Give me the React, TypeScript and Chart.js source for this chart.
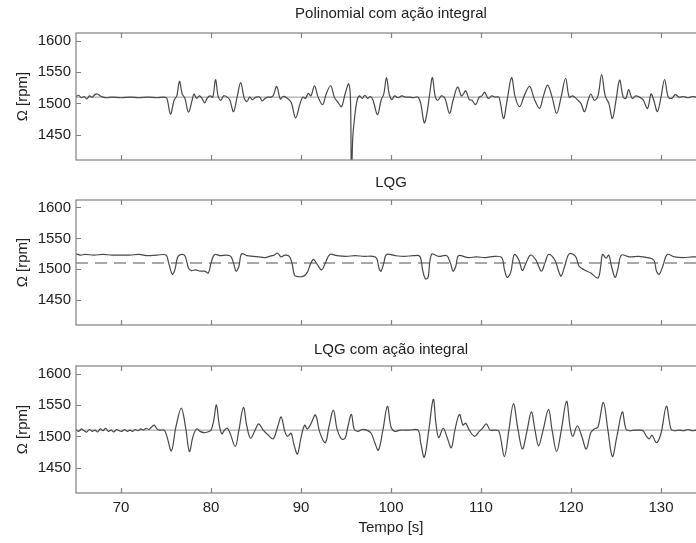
import React, { useEffect, useRef } from 'react';
import { Chart, registerables } from 'chart.js';

Chart.register(...registerables);

const FONT = "'Liberation Sans', Arial, Helvetica, sans-serif";

// axis ticks
const X_TICKS = [70, 80, 90, 100, 110, 120, 130];
const Y_TICKS = [1450, 1500, 1550, 1600];
const X_MIN = 65;
const X_MAX = 135;
const Y_MIN = 1410;
const Y_MAX = 1612;
const SETPOINT = 1510;

// Panel 1: Polinomial com ação integral
const t1 = [65.0, 65.3, 65.6, 65.9, 66.2, 66.5, 66.8, 67.1, 67.4, 67.7, 68.0, 68.5, 69, 70, 71, 72, 73, 74, 74.8, 75.1, 75.5, 75.9, 76.2, 76.5, 76.8, 77.1, 77.5, 77.9, 78.1, 78.4, 78.7, 79.0, 79.3, 79.6, 79.9, 80.2, 80.5, 80.8, 81.1, 81.4, 81.8, 82.1, 82.5, 82.9, 83.3, 83.7, 84.0, 84.3, 84.6, 85.0, 85.4, 85.7, 86.0, 86.3, 86.6, 86.9, 87.3, 87.7, 88.0, 88.4, 88.9, 89.4, 89.9, 90.2, 90.5, 90.8, 91.1, 91.5, 91.9, 92.4, 92.8, 93.3, 93.7, 94.1, 94.5, 94.9, 95.3, 95.5, 95.6, 95.75, 95.9, 96.2, 96.5, 96.8, 97.1, 97.4, 97.7, 98.0, 98.5, 98.9, 99.2, 99.5, 99.8, 100.1, 100.4, 100.8, 101.2, 101.6, 102, 102.5, 103.0, 103.3, 103.7, 104.0, 104.3, 104.6, 104.9, 105.2, 105.6, 106.0, 106.5, 106.9, 107.4, 107.8, 108.0, 108.3, 108.7, 109.0, 109.4, 109.8, 110.1, 110.4, 110.8, 111.2, 111.6, 112.0, 112.5, 112.9, 113.4, 113.8, 114.3, 114.8, 115.4, 115.9, 116.5, 116.9, 117.4, 117.9, 118.4, 118.9, 119.4, 119.8, 120.2, 120.7, 121.1, 121.5, 121.9, 122.2, 122.6, 123.0, 123.4, 123.8, 124.2, 124.6, 125.0, 125.4, 125.8, 126.1, 126.4, 126.8, 127.2, 127.6, 128.0, 128.5, 128.9, 129.2, 129.6, 130.0, 130.4, 130.8, 131.2, 131.6, 132.0, 132.5, 133, 133.5, 134, 135];
const v1 = [1511, 1513, 1509, 1511, 1507, 1512, 1510, 1514, 1515, 1512, 1510, 1509, 1510, 1509, 1510, 1509, 1510, 1509, 1510, 1508, 1483, 1505, 1512, 1535, 1515, 1508, 1486, 1505, 1515, 1508, 1512, 1508, 1501, 1509, 1512, 1510, 1538, 1511, 1505, 1512, 1510, 1505, 1487, 1510, 1533, 1508, 1503, 1510, 1506, 1510, 1510, 1504, 1508, 1510, 1510, 1512, 1527, 1507, 1511, 1509, 1502, 1477, 1500, 1510, 1508, 1516, 1512, 1528, 1510, 1498, 1515, 1528, 1510, 1502, 1495, 1515, 1531, 1505, 1380, 1445, 1470, 1503, 1512, 1508, 1513, 1508, 1511, 1505, 1482, 1505, 1515, 1541, 1515, 1506, 1512, 1509, 1512, 1510, 1510, 1509, 1510, 1500, 1469, 1485, 1515, 1541, 1512, 1505, 1512, 1508, 1484, 1505, 1526, 1512, 1514, 1520, 1506, 1505, 1498, 1510, 1512, 1518, 1508, 1512, 1510, 1510, 1476, 1505, 1541, 1510, 1495, 1512, 1527, 1508, 1492, 1510, 1529, 1510, 1484, 1510, 1540, 1510, 1512, 1506, 1500, 1487, 1505, 1515, 1505, 1512, 1546, 1512, 1500, 1476, 1505, 1537, 1510, 1508, 1522, 1508, 1512, 1510, 1506, 1492, 1515, 1505, 1487, 1510, 1538, 1510, 1508, 1514, 1510, 1511, 1509, 1511, 1510, 1510];

// Panel 2: LQG
const t2 = [65, 65.5, 66, 67, 68, 69, 70, 71, 72, 73, 74, 75.0, 75.3, 75.7, 76.0, 76.3, 76.7, 77.1, 77.5, 77.8, 78.3, 78.8, 79.3, 79.7, 80.0, 80.4, 81.0, 81.7, 82.2, 82.5, 82.8, 83.1, 83.4, 84.0, 84.7, 85.3, 86.0, 86.5, 87.0, 87.4, 87.8, 88.2, 88.7, 89.0, 89.3, 89.8, 90.3, 90.7, 91.1, 91.4, 91.8, 92.3, 92.7, 93.2, 94, 95, 96, 97, 98, 98.4, 98.7, 98.9, 99.2, 99.5, 100.5, 101.5, 102.5, 103.2, 103.5, 103.8, 104.1, 104.5, 105.3, 106.2, 106.6, 106.9, 107.2, 107.5, 108.5, 109.5, 110.5, 111.5, 112.3, 112.6, 112.9, 113.3, 113.7, 114.2, 114.6, 115.0, 115.5, 116.1, 116.7, 117.1, 117.5, 118.2, 118.6, 118.9, 119.3, 119.8, 120.5, 120.9, 121.5, 122.2, 123.0, 123.3, 123.5, 123.9, 124.2, 124.5, 124.9, 125.2, 125.6, 126.5, 127.5, 128.5, 129.2, 129.5, 129.8, 130.2, 130.7, 131.5, 132.5, 133.5, 134.5, 135];
const v2 = [1525, 1523, 1524, 1523, 1524, 1523, 1523, 1523, 1524, 1522, 1523, 1523, 1510, 1492, 1500, 1520, 1524, 1522, 1502, 1498, 1499, 1497, 1497, 1494, 1510, 1524, 1522, 1523, 1521, 1510, 1497, 1505, 1525, 1522, 1521, 1520, 1519, 1521, 1523, 1526, 1520, 1523, 1521, 1510, 1490, 1488, 1489, 1495, 1510, 1516, 1508, 1499, 1510, 1524, 1522, 1521, 1522, 1521, 1521, 1518, 1500, 1497, 1510, 1524, 1522, 1521, 1522, 1521, 1500, 1485, 1486, 1524, 1521, 1522, 1510, 1497, 1505, 1522, 1519, 1520, 1519, 1521, 1519, 1500, 1487, 1495, 1524, 1515, 1498, 1510, 1523, 1515, 1497, 1510, 1524, 1515, 1498, 1489, 1505, 1525, 1521, 1505, 1499, 1494, 1486, 1505, 1524, 1518, 1523, 1505, 1487, 1500, 1523, 1520, 1521, 1519, 1515, 1497, 1492, 1505, 1524, 1520, 1519, 1520, 1520, 1520];

// Panel 3: LQG com ação integral
const t3 = [65, 65.3, 65.6, 65.9, 66.2, 66.5, 66.8, 67.1, 67.4, 67.7, 68.0, 68.3, 68.6, 68.9, 69.2, 69.5, 69.8, 70.1, 70.4, 70.7, 71.0, 71.3, 71.6, 71.9, 72.2, 72.5, 72.8, 73.1, 73.4, 73.7, 74.0, 74.3, 74.8, 75.1, 75.6, 76.1, 76.7, 77.2, 77.6, 78.0, 78.4, 78.8, 79.2, 79.6, 80.0, 80.3, 80.6, 80.9, 81.2, 81.5, 81.8, 82.1, 82.7, 83.1, 83.6, 84.0, 84.4, 84.9, 85.3, 85.8, 86.3, 86.9, 87.4, 87.8, 88.2, 88.5, 88.9, 89.2, 89.6, 90.0, 90.4, 90.7, 91.1, 91.6, 92.1, 92.7, 93.1, 93.6, 94.0, 94.5, 94.9, 95.2, 95.6, 95.9, 96.3, 96.8, 97.3, 97.8, 98.2, 98.6, 99.1, 99.6, 100.0, 100.4, 101, 102, 103, 103.3, 103.7, 104.2, 104.7, 105.0, 105.3, 105.8, 106.2, 106.7, 107.1, 107.6, 108.0, 108.3, 108.7, 109.3, 109.8, 110.1, 110.6, 111.0, 111.5, 112.0, 112.6, 113.1, 113.6, 114.1, 114.6, 115.1, 115.6, 116.0, 116.4, 116.9, 117.5, 117.9, 118.4, 118.9, 119.5, 119.9, 120.2, 120.7, 121.2, 121.7, 122.2, 122.6, 123.0, 123.6, 124.1, 124.6, 125.1, 125.7, 126.1, 126.5, 127, 127.5, 128.0, 128.4, 128.7, 129.0, 129.5, 130.0, 130.6, 131.1, 131.5, 132, 132.5, 133, 133.5, 134, 135];
const v3 = [1511, 1508, 1512, 1509, 1507, 1511, 1508, 1510, 1507, 1512, 1509, 1513, 1508, 1510, 1507, 1511, 1509, 1508, 1511, 1508, 1510, 1508, 1511, 1509, 1512, 1510, 1513, 1511, 1515, 1518, 1512, 1510, 1510, 1500, 1477, 1515, 1545, 1512, 1476, 1500, 1512, 1508, 1506, 1507, 1510, 1525, 1550, 1520, 1504, 1510, 1513, 1506, 1484, 1510, 1546, 1515, 1497, 1510, 1520, 1510, 1503, 1496, 1515, 1531, 1508, 1500, 1505, 1488, 1472, 1498, 1518, 1512, 1520, 1534, 1506, 1490, 1515, 1542, 1512, 1496, 1497, 1515, 1535, 1512, 1508, 1511, 1510, 1505, 1490, 1478, 1510, 1548, 1515, 1508, 1510, 1510, 1510, 1490, 1467, 1510, 1559, 1520, 1498, 1513, 1500, 1482, 1510, 1535, 1518, 1521, 1510, 1500, 1508, 1512, 1520, 1510, 1510, 1508, 1468, 1510, 1552, 1512, 1480, 1508, 1539, 1510, 1485, 1510, 1543, 1510, 1476, 1508, 1556, 1515, 1500, 1517, 1500, 1480, 1506, 1512, 1515, 1554, 1510, 1468, 1500, 1539, 1512, 1509, 1510, 1510, 1509, 1500, 1496, 1502, 1490, 1505, 1548, 1512, 1509, 1510, 1509, 1511, 1509, 1510, 1510];

const TITLES = ['Polinomial com ação integral', 'LQG', 'LQG com ação integral'];
const Y_LABEL = 'Ω [rpm]';
const X_LABEL = 'Tempo [s]';

const framePlugin = {
  id: 'frameTicks',
  afterDatasetsDraw(chart: any) {
    const { ctx, chartArea: a, scales } = chart;
    ctx.save();
    ctx.strokeStyle = '#808080';
    ctx.lineWidth = 1.2;
    ctx.strokeRect(a.left, a.top, a.right - a.left, a.bottom - a.top);
    ctx.beginPath();
    for (const t of X_TICKS) {
      const px = Math.round(scales.x.getPixelForValue(t)) + 0.5;
      ctx.moveTo(px, a.bottom);
      ctx.lineTo(px, a.bottom - 5);
      ctx.moveTo(px, a.top);
      ctx.lineTo(px, a.top + 5);
    }
    for (const v of Y_TICKS) {
      const py = Math.round(scales.y.getPixelForValue(v)) + 0.5;
      ctx.moveTo(a.left, py);
      ctx.lineTo(a.left + 5, py);
    }
    ctx.stroke();
    ctx.restore();
  },
};

type PanelProps = {
  top: number;
  height: number;
  title: string;
  ts: number[];
  vs: number[];
  dashedRef: boolean;
  showX: boolean;
  titlePad: { top: number; bottom: number };
  bottomPad: number;
};

function Panel({ top, height, title, ts, vs, dashedRef, showX, titlePad, bottomPad }: PanelProps) {
  const ref = useRef<HTMLCanvasElement | null>(null);
  useEffect(() => {
    if (!ref.current) return;
    const signal = ts.map((t, i) => ({ x: t, y: vs[i] }));
    const refLine = [
      { x: X_MIN, y: SETPOINT },
      { x: X_MAX, y: SETPOINT },
    ];
    const chart = new Chart(ref.current, {
      type: 'line',
      data: {
        datasets: [
          {
            data: signal,
            borderColor: '#484848',
            borderWidth: 1.2,
            pointRadius: 0,
            tension: 0.35,
            fill: false,
            order: 0,
          },
          {
            data: refLine,
            borderColor: dashedRef ? '#8a8a8a' : '#9a9a9a',
            borderWidth: dashedRef ? 1.5 : 1,
            borderDash: dashedRef ? [12, 7] : [],
            pointRadius: 0,
            fill: false,
            order: 1,
          },
        ],
      },
      options: {
        animation: false,
        responsive: false,
        events: [],
        layout: { padding: { left: 0, right: 74, top: 0, bottom: bottomPad } },
        plugins: {
          legend: { display: false },
          tooltip: { enabled: false },
          title: {
            display: true,
            text: title,
            fullSize: false,
            color: '#222',
            font: { family: FONT, size: 15, weight: 'normal' },
            padding: titlePad,
          },
        },
        scales: {
          x: {
            type: 'linear',
            min: X_MIN,
            max: X_MAX,
            display: showX,
            afterBuildTicks: (s: any) => {
              s.ticks = X_TICKS.map((v) => ({ value: v }));
            },
            afterFit: (s: any) => {
              if (showX) s.height = 50;
            },
            grid: { display: false, drawTicks: false },
            border: { display: false },
            ticks: {
              autoSkip: false,
              maxRotation: 0,
              padding: 6,
              color: '#222',
              font: { family: FONT, size: 15 },
              callback: (v: any) => String(v),
            },
            title: {
              display: showX,
              text: X_LABEL,
              color: '#222',
              font: { family: FONT, size: 15 },
              padding: { top: 0, bottom: 6 },
            },
          },
          y: {
            type: 'linear',
            min: Y_MIN,
            max: Y_MAX,
            afterBuildTicks: (s: any) => {
              s.ticks = Y_TICKS.map((v) => ({ value: v }));
            },
            afterFit: (s: any) => {
              s.width = 76;
            },
            grid: { display: false, drawTicks: false },
            border: { display: false },
            ticks: {
              padding: 5,
              color: '#222',
              font: { family: FONT, size: 15 },
              callback: (v: any) => String(v),
            },
            title: {
              display: true,
              text: Y_LABEL,
              color: '#222',
              font: { family: FONT, size: 15 },
              padding: { top: 14, bottom: 0 },
            },
          },
        },
      } as any,
      plugins: [framePlugin],
    });
    return () => chart.destroy();
  }, []);
  return (
    <canvas
      ref={ref}
      width={780}
      height={height}
      style={{ position: 'absolute', left: 0, top, width: 780, height, display: 'block' }}
    />
  );
}

export default function App() {
  return (
    <div
      style={{
        position: 'absolute',
        left: 0,
        top: 0,
        width: 696,
        height: 543,
        overflow: 'hidden',
        background: '#fff',
      }}
    >
      <Panel top={0} height={175} title={TITLES[0]} ts={t1} vs={v1} dashedRef={false} showX={false} titlePad={{ top: 5, bottom: 10 }} bottomPad={15} />
      <Panel top={165} height={175} title={TITLES[1]} ts={t2} vs={v2} dashedRef={true} showX={false} titlePad={{ top: 8.7, bottom: 8.3 }} bottomPad={15} />
      <Panel top={335} height={208} title={TITLES[2]} ts={t3} vs={v3} dashedRef={false} showX={true} titlePad={{ top: 6, bottom: 7 }} bottomPad={0} />
    </div>
  );
}
